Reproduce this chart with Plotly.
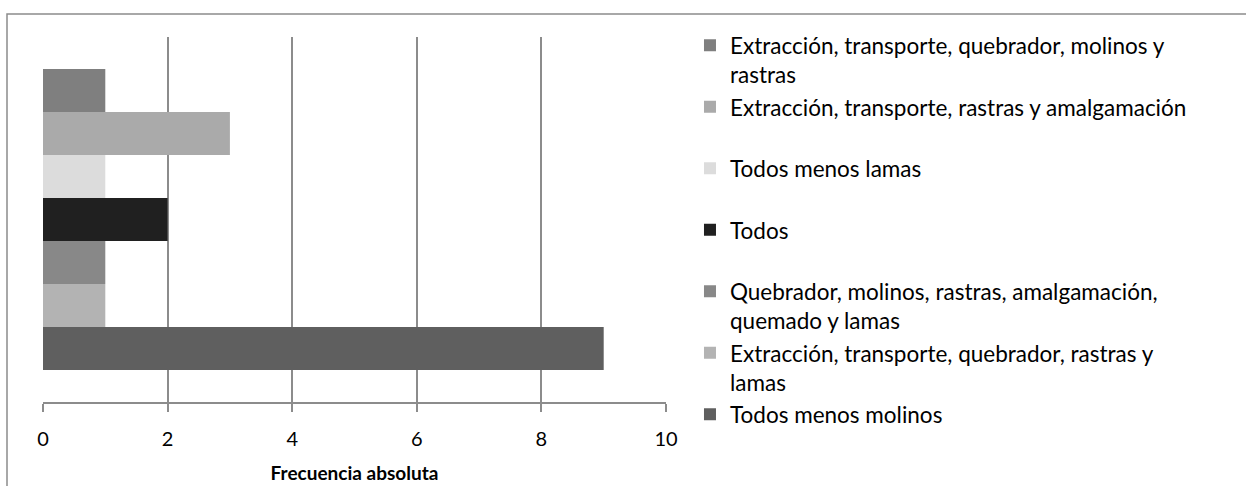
import plotly.graph_objects as go

# Series listed bottom-to-top as drawn in the bar cluster
series_names = [
    "Todos menos molinos",
    "Extracción, transporte, quebrador, rastras y<br>lamas",
    "Quebrador, molinos, rastras, amalgamación,<br>quemado y lamas",
    "Todos",
    "Todos menos lamas",
    "Extracción, transporte, rastras y amalgamación",
    "Extracción, transporte, quebrador, molinos y<br>rastras",
]
series_values = [9, 1, 1, 2, 1, 3, 1]
series_colors = ["#5f5f5f", "#b3b3b3", "#888888", "#202020", "#dcdcdc", "#aaaaaa", "#7f7f7f"]
category = [""]
x_ticks = [0, 2, 4, 6, 8, 10]
x_title = "Frecuencia absoluta"

FONT = "Lato"

fig = go.Figure()
for i, (name, val, col) in enumerate(zip(series_names, series_values, series_colors)):
    label = name if "<br>" in name else name + "<br>\u00a0"
    fig.add_trace(go.Bar(
        y=category, x=[val], name=label, orientation="h",
        marker=dict(color=col, line=dict(width=0)),
        legendgroup=f"g{i}", legendrank=1000 - i,
    ))

fig.update_layout(
    width=1246, height=486,
    barmode="group", bargap=0.175, bargroupgap=0,
    plot_bgcolor="white", paper_bgcolor="white",
    margin=dict(l=43, r=580, t=37, b=84),
    font=dict(family=FONT, size=20, color="#000000"),
    showlegend=True,
    legend=dict(
        x=1.0385, xanchor="left", y=1.035, yanchor="top",
        traceorder="grouped", tracegroupgap=0, valign="top",
        font=dict(family=FONT, size=22.5, color="#000000"),
        bgcolor="rgba(0,0,0,0)", itemclick=False, maxheight=1.0,
    ),
    xaxis=dict(
        range=[0, 10], tickvals=x_ticks, ticktext=[str(t) for t in x_ticks],
        showgrid=True, gridcolor="#8c8c8c", gridwidth=1.5,
        zeroline=False, showline=True, linecolor="#8c8c8c", linewidth=1.5,
        ticks="outside", ticklen=8, tickcolor="#8c8c8c", tickwidth=1.5,
        ticklabelstandoff=10, automargin=False,
        tickfont=dict(family=FONT, size=20, color="#000000"),
        title=dict(text="<b>" + x_title + "</b>", standoff=18,
                   font=dict(family=FONT, size=19, color="#000000")),
    ),
    yaxis=dict(showgrid=False, showticklabels=False, zeroline=False, showline=False,
               ticks="", automargin=False),
)

# Outer chart-area border (only top and left edges are visible in the frame)
fig.add_shape(type="rect", xref="paper", yref="paper",
              x0=(7 - 43) / 623, x1=1.2 + 580 / 623, y0=1 + (37 - 14) / 365, y1=-1,
              line=dict(color="#8c8c8c", width=1.5), fillcolor="rgba(0,0,0,0)", layer="below")

fig.write_html("out.html", config={"displayModeBar": False},
               post_script="document.body.style.margin='0';")
